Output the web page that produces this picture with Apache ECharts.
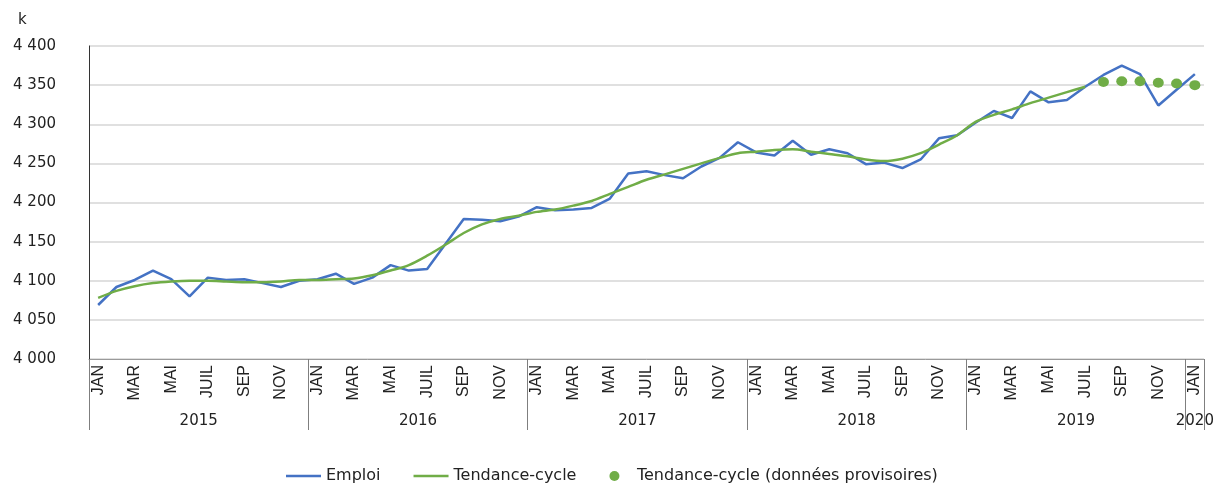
<!DOCTYPE html>
<html>
<head>
<meta charset="utf-8">
<style>
html,body{margin:0;padding:0;background:#fff;}
#chart{width:1220px;height:483px;}
</style>
<script src="https://cdn.jsdelivr.net/npm/echarts@6/dist/echarts.min.js"></script>
</head>
<body>
<div id="chart"></div>
<script>
// ---- data ----
const monthNames = ['JAN','FEV','MAR','AVR','MAI','JUIN','JUIL','AOU','SEP','OCT','NOV','DEC'];
const years = ['2015','2016','2017','2018','2019','2020'];
const yTicks = [4000, 4400, 50]; // min, max, step
const emploi = [
  4069,4092,4101,4113,4102,4080,4104,4101,4102,4097,4092,4100,
  4102,4109,4096,4104,4120,4113,4115,4147,4179,4178,4176,4182,
  4194,4190,4191,4193,4205,4237,4240,4235,4231,4246,4257,4277,
  4264,4260,4279,4261,4268,4263,4249,4251,4244,4255,4282,4286,
  4302,4317,4308,4342,4328,4331,4348,4363,4375,4364,4324,4344,
  4364
];
const tendance = [
  4078,4087,4093,4097,4099,4100,4100,4099,4098,4098,4099,4101,
  4101,4102,4103,4107,4113,4120,4132,4146,4161,4172,4179,4183,
  4188,4191,4196,4202,4211,4220,4229,4236,4243,4250,4257,4263,
  4265,4267,4268,4265,4262,4259,4255,4253,4256,4263,4274,4286,
  4303,4312,4319,4327,4334,4341,4348,null,null,null,null,null,
  null
];
const provisoire = [
  null,null,null,null,null,null,null,null,null,null,null,null,
  null,null,null,null,null,null,null,null,null,null,null,null,
  null,null,null,null,null,null,null,null,null,null,null,null,
  null,null,null,null,null,null,null,null,null,null,null,null,
  null,null,null,null,null,null,null,4354,4355,4355,4353,4352,
  4350
];

// ---- build categories ----
const months = [];
for (let y = 0; y < 5; y++) for (let m = 0; m < 12; m++) months.push(monthNames[m]);
months.push(monthNames[0]);

// secondary (year) axis: half-month positions 0..122
const halfSteps = months.length * 2 + 1;
const yearCats = [];
for (let k = 0; k < halfSteps; k++) yearCats.push('');
for (let j = 0; j < 5; j++) yearCats[12 + 24 * j] = years[j];
yearCats[months.length * 2 - 1] = years[5];

const chart = echarts.init(document.getElementById('chart'), null, {renderer: 'canvas'});
const hFont = 'DejaVu Sans';
const lineIcon = 'path://M0,0H35V2.5H0Z';
const option = {
  animation: false,
  backgroundColor: '#ffffff',
  grid: {left: 89, right: 16, top: 46, bottom: 124, outerBoundsMode: 'none', containLabel: false},
  graphic: [{type: 'text', left: 18, top: 13, style: {text: 'k', font: '15px "DejaVu Sans"', fill: '#222'}}],
  legend: {
    left: 281, top: 463, itemWidth: 35, itemHeight: 10, itemGap: 33, symbolKeepAspect: true,
    textStyle: {fontFamily: hFont, fontSize: 16, color: '#222'},
    data: [
      {name: 'Emploi', icon: lineIcon},
      {name: 'Tendance-cycle', icon: lineIcon},
      {name: 'Tendance-cycle (données provisoires)', icon: 'circle'}
    ]
  },
  xAxis: [
    {
      type: 'category', data: months, boundaryGap: true, position: 'bottom',
      axisLine: {show: true, lineStyle: {color: '#9a9a9a', width: 1}},
      axisTick: {show: false},
      axisLabel: {
        rotate: 90, margin: 6, interval: (i) => i % 2 === 0,
        fontFamily: 'Liberation Sans', fontSize: 16, color: '#222'
      },
      splitLine: {show: false}
    },
    {
      type: 'category', data: yearCats, boundaryGap: false, position: 'bottom',
      axisLine: {show: false},
      axisTick: {show: true, length: 71, interval: (i) => i % 24 === 0 || i === halfSteps - 1,
        lineStyle: {color: '#7f7f7f', width: 1}},
      axisLabel: {
        margin: 55, interval: (i) => yearCats[i] !== '',
        fontFamily: hFont, fontSize: 15, color: '#222'
      },
      splitLine: {show: false}
    }
  ],
  yAxis: {
    type: 'value', min: yTicks[0], max: yTicks[1], interval: yTicks[2],
    axisLine: {show: true, lineStyle: {color: '#333', width: 1}},
    axisTick: {show: false},
    axisLabel: {
      margin: 33, fontFamily: hFont, fontSize: 15, color: '#222',
      formatter: (v) => String(v).replace(/\B(?=(\d{3})+(?!\d))/g, ' ')
    },
    splitLine: {show: true, lineStyle: {color: '#d6d6d6', width: 1.5}}
  },
  series: [
    {
      name: 'Emploi', type: 'line', data: emploi, xAxisIndex: 0,
      symbol: 'none', lineStyle: {color: '#4472C4', width: 2.5}, itemStyle: {color: '#4472C4'}, z: 3
    },
    {
      name: 'Tendance-cycle', type: 'line', data: tendance, xAxisIndex: 0,
      symbol: 'none', smooth: 0.3, lineStyle: {color: '#70AD47', width: 2.5}, itemStyle: {color: '#70AD47'}, z: 4
    },
    {
      name: 'Tendance-cycle (données provisoires)', type: 'scatter', data: provisoire, xAxisIndex: 0,
      symbol: 'circle', symbolSize: [11, 10], itemStyle: {color: '#70AD47', opacity: 1}, z: 5
    }
  ]
};
chart.setOption(option);
</script>
</body>
</html>
